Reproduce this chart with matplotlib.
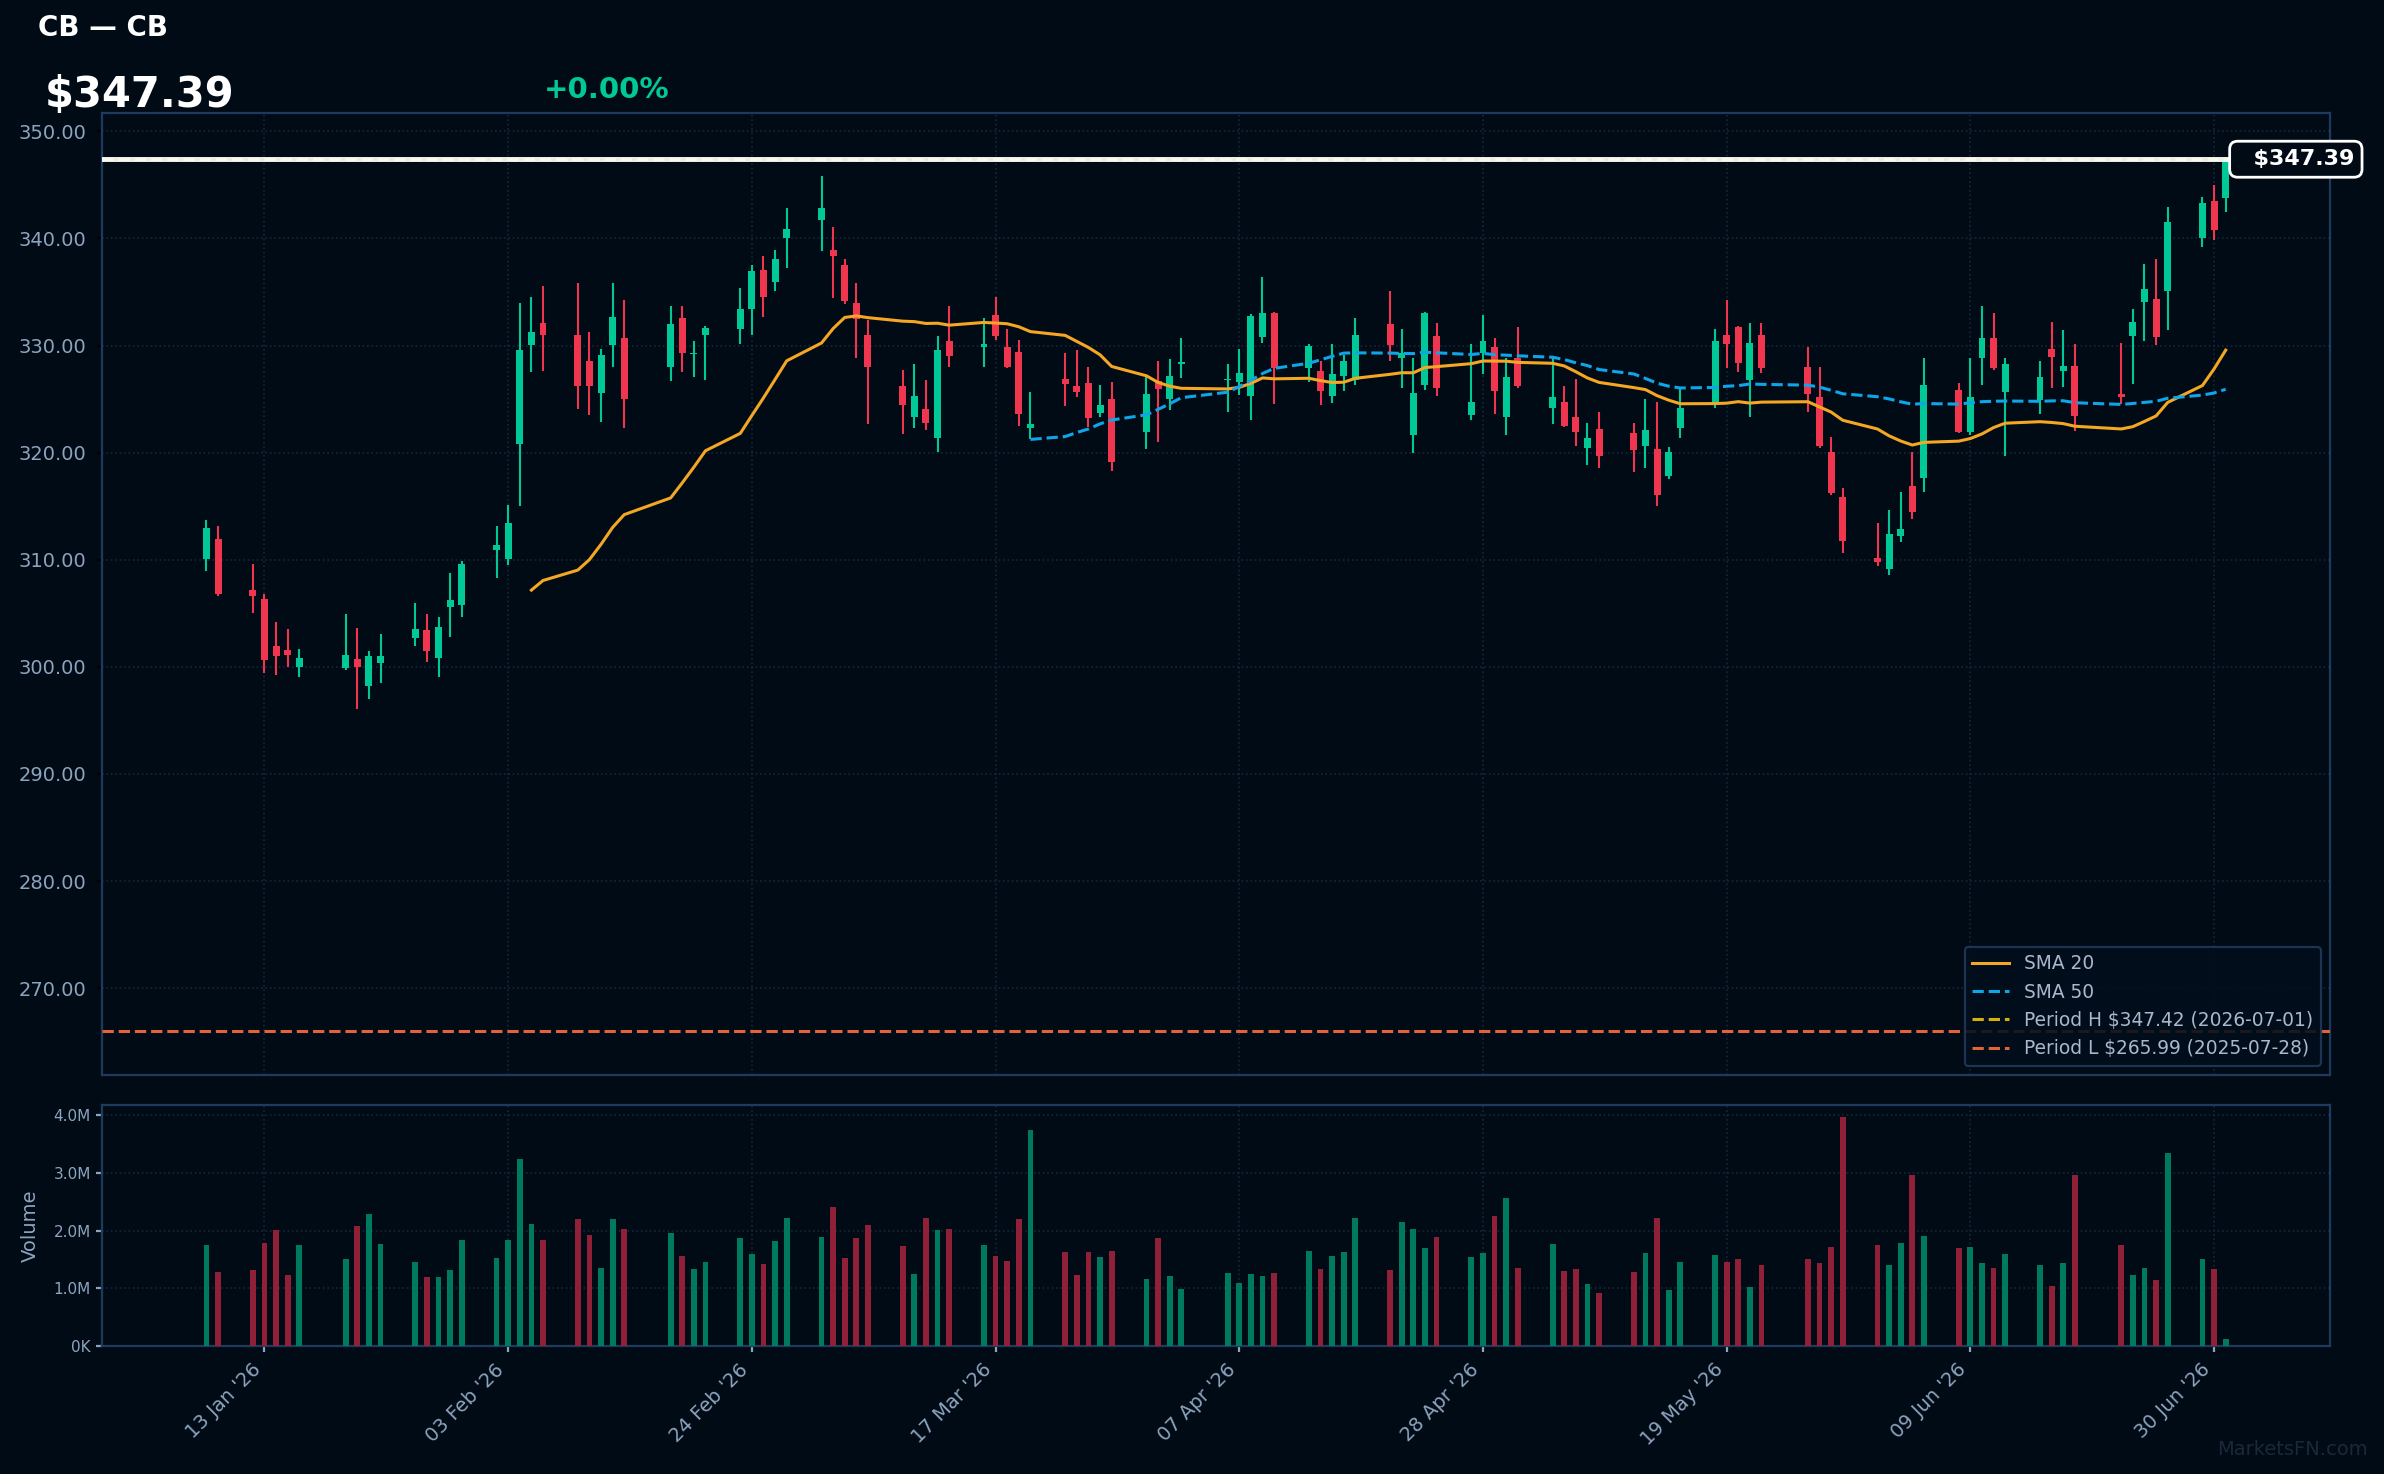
import matplotlib
matplotlib.use("Agg")
import matplotlib.pyplot as plt
import matplotlib.dates as mdates
import numpy as np
import pandas as pd
from matplotlib.ticker import FuncFormatter, FixedLocator

# ---------------- data ----------------
ticker = "CB"
name = "CB"
holidays = ["2026-01-19", "2026-02-16", "2026-04-03", "2026-05-25", "2026-06-19"]
dates = pd.bdate_range("2026-01-08", "2026-07-01", freq="C", holidays=holidays)

opens = [310.03, 311.93, 307.15, 306.31, 301.92, 301.57, 300.03, 299.92, 300.73, 298.24,
         300.38, 302.70, 303.43, 300.83, 305.61, 305.78, 310.91, 310.07, 320.81, 330.04,
         332.07, 330.95, 328.60, 325.58, 330.07, 330.74, 328.00, 332.53, 329.20, 330.99,
         331.55, 333.44, 337.09, 335.90, 340.04, 341.76, 338.95, 337.55, 334.00, 331.02,
         326.18, 323.33, 324.04, 321.37, 330.46, 329.90, 332.81, 329.83, 329.37, 322.32,
         326.91, 326.18, 326.46, 323.69, 324.98, 321.93, 326.70, 325.02, 328.30, 326.75,
         326.60, 325.30, 330.78, 332.99, 327.90, 327.58, 325.26, 327.19, 326.81, 331.97,
         328.84, 321.61, 326.35, 330.85, 323.47, 329.34, 329.83, 323.33, 328.88, 324.21,
         324.70, 323.30, 320.39, 322.18, 321.79, 320.60, 320.32, 317.79, 322.32, 324.42,
         330.95, 331.69, 326.77, 331.02, 328.04, 325.16, 320.10, 315.82, 310.14, 309.15,
         312.21, 316.84, 317.65, 325.83, 321.89, 328.88, 330.67, 325.62, 324.88, 329.64,
         327.62, 328.05, 325.44, 330.85, 334.05, 334.30, 335.05, 340.02, 343.45, 343.76]
highs = [313.68, 313.12, 309.57, 306.77, 304.17, 303.50, 301.64, 304.91, 303.61, 301.47,
         303.05, 305.92, 304.91, 304.63, 308.73, 309.86, 313.12, 315.09, 334.00, 334.50,
         335.51, 335.79, 331.30, 329.72, 335.79, 334.21, 333.72, 333.65, 330.46, 331.79,
         335.41, 337.55, 338.32, 338.95, 342.88, 345.87, 341.02, 338.11, 335.79, 332.35,
         327.69, 328.32, 326.74, 330.85, 333.65, 332.60, 334.50, 331.51, 330.56, 325.62,
         329.27, 329.62, 328.04, 326.35, 326.63, 327.05, 328.60, 328.70, 330.67, 328.25,
         329.69, 332.95, 336.36, 333.13, 330.18, 328.53, 330.18, 329.09, 332.53, 335.13,
         331.51, 328.81, 333.09, 332.14, 330.11, 332.81, 330.67, 328.88, 331.69, 328.88,
         326.18, 326.91, 322.81, 323.76, 322.81, 325.05, 324.70, 320.49, 326.00, 331.58,
         334.21, 331.79, 332.14, 332.14, 329.90, 328.04, 321.44, 316.66, 313.40, 314.63,
         316.28, 320.10, 328.81, 326.46, 328.81, 333.72, 332.99, 328.81, 328.60, 332.16,
         331.41, 330.11, 330.20, 333.37, 337.57, 338.03, 342.89, 343.82, 345.03, 347.42]
lows = [308.91, 306.59, 305.05, 299.43, 299.26, 299.96, 299.08, 299.71, 296.10, 297.01,
        298.52, 301.96, 300.48, 299.08, 302.80, 304.66, 308.31, 309.50, 315.02, 327.51,
        327.62, 324.07, 323.51, 322.84, 328.00, 322.32, 326.67, 327.51, 327.05, 326.77,
        330.18, 330.99, 332.64, 335.06, 337.27, 338.78, 334.39, 333.83, 328.88, 322.63,
        321.72, 322.28, 322.07, 320.07, 328.04, 328.04, 330.56, 327.86, 322.46, 321.26,
        324.32, 325.19, 322.39, 323.37, 318.28, 320.32, 320.98, 323.97, 326.95, 323.79,
        325.37, 323.05, 330.21, 324.53, 326.63, 324.49, 324.63, 325.72, 326.35, 328.53,
        326.00, 319.93, 325.83, 325.33, 323.09, 327.30, 323.58, 321.61, 326.00, 322.63,
        322.42, 320.60, 318.81, 318.53, 318.21, 318.53, 315.02, 317.51, 321.37, 324.14,
        327.90, 327.48, 323.30, 327.41, 323.79, 320.39, 316.03, 310.63, 309.43, 308.59,
        311.68, 313.82, 316.31, 321.79, 321.61, 326.35, 327.69, 319.65, 323.65, 326.03,
        326.13, 322.02, 324.51, 326.37, 330.39, 330.01, 331.44, 339.19, 339.84, 342.45]
closes = [313.01, 306.77, 306.63, 300.66, 301.05, 301.12, 300.80, 301.08, 300.03, 301.01,
          301.01, 303.50, 301.50, 303.71, 306.21, 309.57, 311.36, 313.40, 329.55, 331.30,
          330.99, 326.21, 326.21, 329.16, 332.64, 325.02, 331.97, 329.30, 329.25, 331.65,
          333.44, 336.92, 334.50, 338.04, 340.92, 342.88, 338.32, 334.11, 332.46, 328.00,
          324.46, 325.33, 322.77, 329.62, 329.02, 330.10, 330.85, 327.97, 323.61, 322.63,
          326.39, 325.65, 323.19, 324.42, 319.09, 325.44, 325.93, 327.19, 328.40, 326.85,
          327.44, 332.71, 332.99, 327.93, 330.00, 325.76, 327.30, 328.53, 330.95, 330.07,
          329.34, 325.55, 332.99, 326.07, 324.70, 330.39, 325.72, 327.02, 326.18, 325.16,
          322.49, 321.93, 321.33, 319.65, 320.25, 322.07, 316.03, 320.10, 324.21, 330.39,
          330.14, 328.35, 330.28, 327.90, 325.44, 320.60, 316.21, 311.75, 309.79, 312.38,
          312.84, 314.45, 326.35, 321.89, 325.16, 330.67, 327.90, 328.25, 327.02, 328.92,
          328.05, 323.42, 325.22, 332.16, 335.24, 330.76, 341.49, 343.35, 340.77, 347.39]
volumes_m = [1.746, 1.277, 1.312, 1.780, 2.006, 1.225, 1.746, 1.503, 2.075, 2.283,
             1.763, 1.451, 1.191, 1.191, 1.312, 1.832, 1.520, 1.832, 3.237, 2.110,
             1.832, 2.197, 1.919, 1.347, 2.197, 2.023, 1.954, 1.555, 1.329, 1.451,
             1.867, 1.590, 1.416, 1.815, 2.214, 1.884, 2.405, 1.520, 1.867, 2.092,
             1.728, 1.243, 2.214, 2.006, 2.023, 1.746, 1.555, 1.468, 2.197, 3.740,
             1.624, 1.225, 1.624, 1.538, 1.642, 1.156, 1.867, 1.208, 0.983, 1.265,
             1.091, 1.248, 1.213, 1.265, 1.648, 1.335, 1.561, 1.631, 2.223, 1.317,
             2.153, 2.031, 1.701, 1.892, 1.544, 1.613, 2.258, 2.571, 1.352, 1.770,
             1.300, 1.335, 1.074, 0.917, 1.283, 1.613, 2.223, 0.969, 1.457, 1.579,
             1.457, 1.509, 1.021, 1.405, 1.509, 1.439, 1.718, 3.981, 1.753, 1.405,
             1.788, 2.972, 1.909, 1.701, 1.718, 1.439, 1.352, 1.596, 1.405, 1.039,
             1.439, 2.972, 1.753, 1.230, 1.352, 1.143, 3.355, 1.509, 1.335, 0.116]

last_price = 347.39
change_pct = 0.00
period_high = 347.42
period_high_date = "2026-07-01"
period_low = 265.99
period_low_date = "2025-07-28"
price_ticks = [270, 280, 290, 300, 310, 320, 330, 340, 350]
vol_ticks_m = [0, 1, 2, 3, 4]
date_ticks = ["2026-01-13", "2026-02-03", "2026-02-24", "2026-03-17", "2026-04-07",
              "2026-04-28", "2026-05-19", "2026-06-09", "2026-06-30"]

# ---------------- style ----------------
BG = "#010b16"
FRAME = "#1f3a5c"
GRID = "#15263a"
TXT = "#8da4bf"
UP = "#00c896"
DOWN = "#f0364f"
UP_V = "#007a5e"
DOWN_V = "#8f2038"
SMA20_C = "#f5a623"
SMA50_C = "#0ea5e9"
PH_C = "#d4b106"
PL_C = "#e0633a"

plt.rcParams["font.family"] = ["DejaVu Sans"]

o = np.array(opens); h = np.array(highs); l = np.array(lows); c = np.array(closes)
v = np.array(volumes_m) * 1e6
x = mdates.date2num(dates.to_pydatetime())
up = c >= o

fig = plt.figure(figsize=(11.92, 7.37), dpi=200)
fig.patch.set_facecolor(BG)
ax = fig.add_axes([0.0428, 0.2707, 0.9346, 0.6526])
axv = fig.add_axes([0.0428, 0.0868, 0.9346, 0.1635], sharex=ax)

for a in (ax, axv):
    a.set_facecolor(BG)
    for s in a.spines.values():
        s.set_color(FRAME)
        s.set_linewidth(0.8)
    a.grid(True, color=GRID, linestyle=":", linewidth=0.6)
    a.set_axisbelow(True)

cols = np.where(up, UP, DOWN)
ax.vlines(x, l, h, colors=cols, linewidth=0.75, zorder=2)
ax.bar(x, np.maximum(np.abs(c - o), 0.12), bottom=np.minimum(o, c), width=0.6,
       color=cols, linewidth=0, zorder=3)

cs = pd.Series(c)
sma20 = cs.rolling(20).mean()
sma50 = cs.rolling(50).mean()
ax.plot(x, sma20, color=SMA20_C, lw=1.1, label="SMA 20", zorder=4)
ax.plot(x, sma50, color=SMA50_C, lw=1.1, ls="--", label="SMA 50", zorder=4)

ax.axhline(period_high, color=PH_C, lw=1.1, ls="--",
           label=f"Period H ${period_high:.2f} ({period_high_date})", zorder=4)
ax.axhline(period_low, color=PL_C, lw=1.1, ls="--",
           label=f"Period L ${period_low:.2f} ({period_low_date})", zorder=4)
ax.axhline(last_price, color="white", lw=1.8, alpha=0.92, zorder=5)

ax.set_xlim(x[0] - 9, x[-1] + 9)
ax.set_ylim(261.9, 351.7)
ax.yaxis.set_major_locator(FixedLocator(price_ticks))
ax.yaxis.set_major_formatter(FuncFormatter(lambda val, p: f"{val:.2f}"))
ax.tick_params(axis="y", colors="black", labelcolor=TXT, labelsize=7, length=1.8, pad=4)
ax.tick_params(axis="x", labelbottom=False, length=0)

ax.text(0.9585, last_price, f"  ${last_price:.2f}", transform=ax.get_yaxis_transform(),
        ha="left", va="center", color="white", fontsize=8, fontweight="bold",
        bbox=dict(boxstyle="round,pad=0.36", facecolor=BG, edgecolor="white", linewidth=1.0),
        zorder=6, clip_on=False)

leg = ax.legend(loc="lower right", fontsize=6.7, facecolor="#020e1b", edgecolor=FRAME,
                framealpha=0.88, labelcolor="#a9b8cc")
leg.get_frame().set_linewidth(0.8)

# volume
vcols = np.where(up, UP_V, DOWN_V)
axv.bar(x, v, width=0.5, color=vcols, linewidth=0, zorder=3)
axv.set_ylim(0, 4.18e6)
axv.yaxis.set_major_locator(FixedLocator([t * 1e6 for t in vol_ticks_m]))
axv.yaxis.set_major_formatter(FuncFormatter(
    lambda val, p: f"{val/1e6:.1f}M" if val >= 1e6 else f"{val/1e3:.0f}K"))
axv.tick_params(axis="y", colors=TXT, labelsize=5.5, length=2, pad=2)
axv.set_ylabel("Volume", color=TXT, fontsize=7, labelpad=5)

tick_x = mdates.date2num(pd.to_datetime(date_ticks).to_pydatetime())
axv.xaxis.set_major_locator(FixedLocator(tick_x))
axv.xaxis.set_major_formatter(mdates.DateFormatter("%d %b '%y"))
axv.tick_params(axis="x", colors=TXT, labelsize=7, length=2, pad=3)
for lab in axv.get_xticklabels():
    lab.set_rotation(45)
    lab.set_ha("right")

# header
fig.text(0.0159, 0.9756, f"{ticker} — {name}", color="white", fontsize=10,
         fontweight="bold", va="baseline", ha="left")
fig.text(0.0188, 0.9274, f"${last_price:.2f}", color="white", fontsize=15,
         fontweight="bold", va="baseline", ha="left")
fig.text(0.2282, 0.9335, f"+{change_pct:.2f}%", color=UP, fontsize=10.5,
         fontweight="bold", va="baseline", ha="left")
fig.text(0.993, 0.0129, "MarketsFN.com", color="#1a2839", fontsize=7,
         va="baseline", ha="right")

fig.savefig("out.png", dpi=200, facecolor=BG)
